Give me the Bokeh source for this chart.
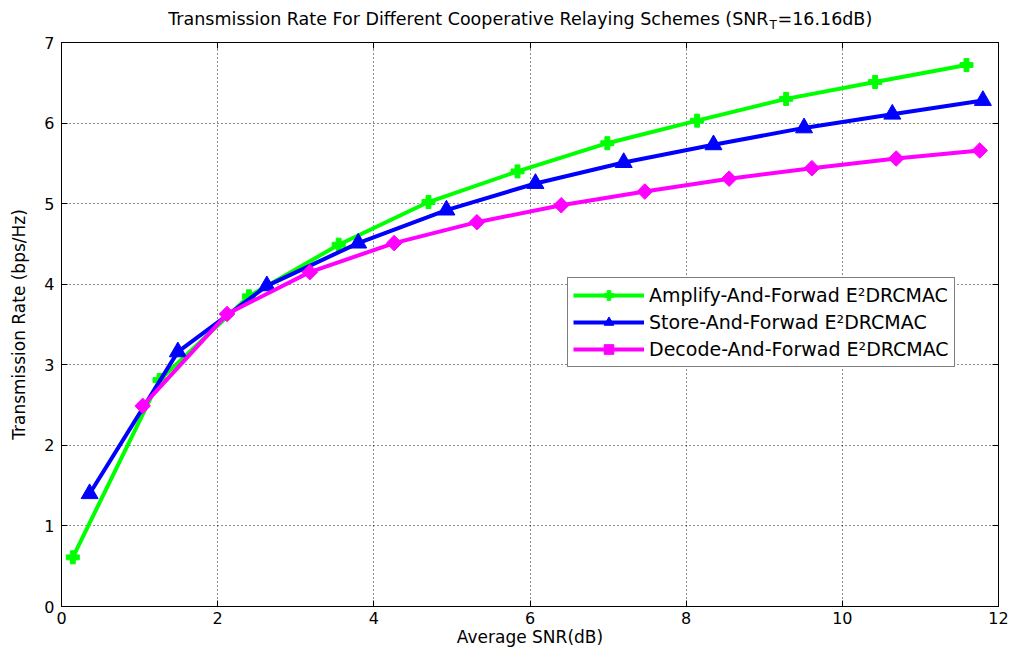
import math
from bokeh.plotting import figure
from bokeh.layouts import column
from bokeh.models import Label, Legend, LegendItem, LinearAxis, FixedTicker, Range1d
from bokeh.embed import file_html
from bokeh.resources import INLINE

# ---- data ----
af_x = [0.145, 1.255, 2.40, 3.55, 4.70, 5.84, 6.99, 8.14, 9.28, 10.42, 11.59]
af_y = [0.61, 2.81, 3.85, 4.49, 5.02, 5.40, 5.75, 6.03, 6.30, 6.51, 6.72]
sf_x = [0.36, 1.49, 2.63, 3.80, 4.93, 6.07, 7.20, 8.35, 9.51, 10.64, 11.80]
sf_y = [1.40, 3.16, 3.98, 4.51, 4.92, 5.25, 5.51, 5.73, 5.94, 6.11, 6.28]
df_x = [1.04, 2.12, 3.18, 4.26, 5.32, 6.40, 7.47, 8.55, 9.61, 10.69, 11.76]
df_y = [2.49, 3.63, 4.15, 4.51, 4.77, 4.98, 5.15, 5.31, 5.44, 5.56, 5.66]

x_ticks = [0, 2, 4, 6, 8, 10, 12]
y_ticks = [0, 1, 2, 3, 4, 5, 6, 7]

labels = ["Amplify-And-Forwad E\u00b2DRCMAC",
          "Store-And-Forwad E\u00b2DRCMAC",
          "Decode-And-Forwad E\u00b2DRCMAC"]
title_main = "Transmission Rate For Different Cooperative Relaying Schemes (SNR"
title_sub = "T"
title_tail = "=16.16dB)"
xlabel = "Average SNR(dB)"
ylabel = "Transmission Rate (bps/Hz)"

FONT = "DejaVu Sans"

# ---- title strip (separate figure so the subscript can be placed freely) ----
t = figure(width=1011, height=32, output_backend="svg", toolbar_location=None,
           x_range=Range1d(0, 1), y_range=Range1d(0, 1),
           x_axis_type=None, y_axis_type=None, min_border=0)
t.title.visible = False
t.outline_line_color = None
t.grid.visible = False
t.background_fill_color = "white"
t.border_fill_color = "white"
for txt, x, y, size, align in ((title_main, 707, 13.3, "17.5px", "right"),
                               (title_sub, 708, 7.5, "12px", "left"),
                               (title_tail, 716, 13.3, "17.5px", "left")):
    t.add_layout(Label(x=x, y=y, x_units="screen", y_units="screen", text=txt,
                       text_align=align, text_baseline="alphabetic",
                       text_font=FONT, text_font_size=size, text_color="black"))

# ---- main plot ----
p = figure(width=1011, height=618, output_backend="svg", toolbar_location=None,
           x_range=Range1d(0, 12), y_range=Range1d(0, 7),
           min_border_left=61, min_border_right=13, min_border_top=10, min_border_bottom=44)
p.title.visible = False
p.background_fill_color = "white"
p.border_fill_color = "white"
p.outline_line_color = "black"
p.outline_line_width = 1

# extra axes for the MATLAB-like box ticks (no labels)
p.add_layout(LinearAxis(), "above")
p.add_layout(LinearAxis(), "right")

for ax in p.xaxis:
    ax.ticker = FixedTicker(ticks=x_ticks)
for ax in p.yaxis:
    ax.ticker = FixedTicker(ticks=y_ticks)

for ax in list(p.xaxis) + list(p.yaxis):
    ax.major_tick_in = 6
    ax.major_tick_out = 0
    ax.minor_tick_line_color = None
    ax.axis_line_color = "black"
    ax.major_tick_line_color = "black"
    ax.major_label_text_font = FONT
    ax.major_label_text_font_size = "16px"
    ax.major_label_text_color = "black"

p.above[0].major_label_overrides = {v: "" for v in x_ticks}
p.above[0].major_label_standoff = 0
p.right[0].major_label_overrides = {v: "" for v in y_ticks}
p.right[0].major_label_standoff = 0

bx = p.below[0]
bx.major_label_standoff = 5
bx.axis_label = xlabel
bx.axis_label_text_font = FONT
bx.axis_label_text_font_size = "17px"
bx.axis_label_text_font_style = "normal"
bx.axis_label_text_color = "black"
bx.axis_label_standoff = 0

ly = p.left[0]
ly.major_label_standoff = 7
ly.axis_label = ylabel
ly.axis_label_text_font = FONT
ly.axis_label_text_font_size = "17px"
ly.axis_label_text_font_style = "normal"
ly.axis_label_text_color = "black"
ly.axis_label_standoff = 12

for g in (p.xgrid, p.ygrid):
    g.grid_line_color = "black"
    g.grid_line_dash = "1 3"
    g.grid_line_width = 1
    g.grid_line_alpha = 0.9

# series
l1 = p.line(af_x, af_y, line_color="#00ff00", line_width=4)
m1 = p.scatter(af_x, af_y, marker="plus", size=13, color="#00ff00")
l2 = p.line(sf_x, sf_y, line_color="#0000ff", line_width=4)
m2 = p.scatter(sf_x, sf_y, marker="triangle", size=17, color="#0000ff")
l3 = p.line(df_x, df_y, line_color="#ff00ff", line_width=4)
m3 = p.scatter(df_x, df_y, marker="square", angle=math.pi / 4, size=11, color="#ff00ff")

legend = Legend(items=[LegendItem(label=labels[0], renderers=[l1, m1]),
                       LegendItem(label=labels[1], renderers=[l2, m2]),
                       LegendItem(label=labels[2], renderers=[l3, m3])],
                location=(506, 239))
legend.label_text_font = FONT
legend.label_text_font_size = "19px"
legend.label_text_color = "black"
legend.glyph_width = 71
legend.glyph_height = 24
legend.label_height = 24
legend.spacing = 3
legend.padding = 5
legend.margin = 0
legend.label_standoff = 5
legend.border_line_color = "black"
legend.border_line_width = 1
legend.background_fill_color = "white"
legend.background_fill_alpha = 1
p.add_layout(legend, "center")

layout = column(t, p, spacing=0)
open("out.html", "w").write(file_html(layout, INLINE))
